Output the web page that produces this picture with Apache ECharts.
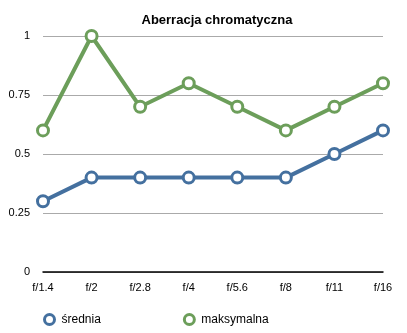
<!DOCTYPE html>
<html><head><meta charset="utf-8">
<script src="https://cdn.jsdelivr.net/npm/echarts@6/dist/echarts.min.js"></script>
<style>html,body{margin:0;padding:0;background:#fff}#c{width:407px;height:333px}</style>
</head><body><div id="c"></div>
<script>
const categories = ['f/1.4','f/2','f/2.8','f/4','f/5.6','f/8','f/11','f/16'];
const srednia = [0.3,0.4,0.4,0.4,0.4,0.4,0.5,0.6];
const maksymalna = [0.6,1,0.7,0.8,0.7,0.6,0.7,0.8];
const seriesNames = ['średnia','maksymalna'];
const chart = echarts.init(document.getElementById('c'));
const font = 'Helvetica, Arial, "Liberation Sans", sans-serif';
function mk(name, data, color){
  return {name, type:'line', data, symbol:'circle', symbolSize:11,
    lineStyle:{width:4,color}, itemStyle:{color:'#fff',borderColor:color,borderWidth:3},
    emphasis:{disabled:true}};
}
chart.setOption({
  animation:false,
  title:{text:'Aberracja chromatyczna',left:212,textAlign:'center',top:9,
    textStyle:{fontSize:13,fontWeight:'bold',color:'#000',fontFamily:font}},
  grid:{left:43,right:24,top:36,bottom:61},
  legend:{bottom:2,left:38,itemGap:82,itemWidth:14,itemHeight:10,
    textStyle:{fontSize:12,color:'#000',fontFamily:font},
    data:[{name:seriesNames[0],icon:'circle',itemStyle:{color:'#fff',borderColor:'#44709f',borderWidth:3}},
          {name:seriesNames[1],icon:'circle',itemStyle:{color:'#fff',borderColor:'#6c9e5a',borderWidth:3}}]},
  xAxis:{type:'category',data:categories,boundaryGap:false,
    axisLine:{lineStyle:{color:'#000',width:1.5}},axisTick:{show:false},
    axisLabel:{fontSize:11,color:'#000',fontFamily:font,margin:10}},
  yAxis:{type:'value',min:0,max:1,interval:0.25,
    axisLine:{show:false},axisTick:{show:false},
    splitLine:{lineStyle:{color:'#aaa',width:1}},
    axisLabel:{fontSize:11,color:'#000',fontFamily:font,margin:13}},
  series:[mk(seriesNames[0],srednia,'#44709f'),mk(seriesNames[1],maksymalna,'#6c9e5a')]
});
</script></body></html>
